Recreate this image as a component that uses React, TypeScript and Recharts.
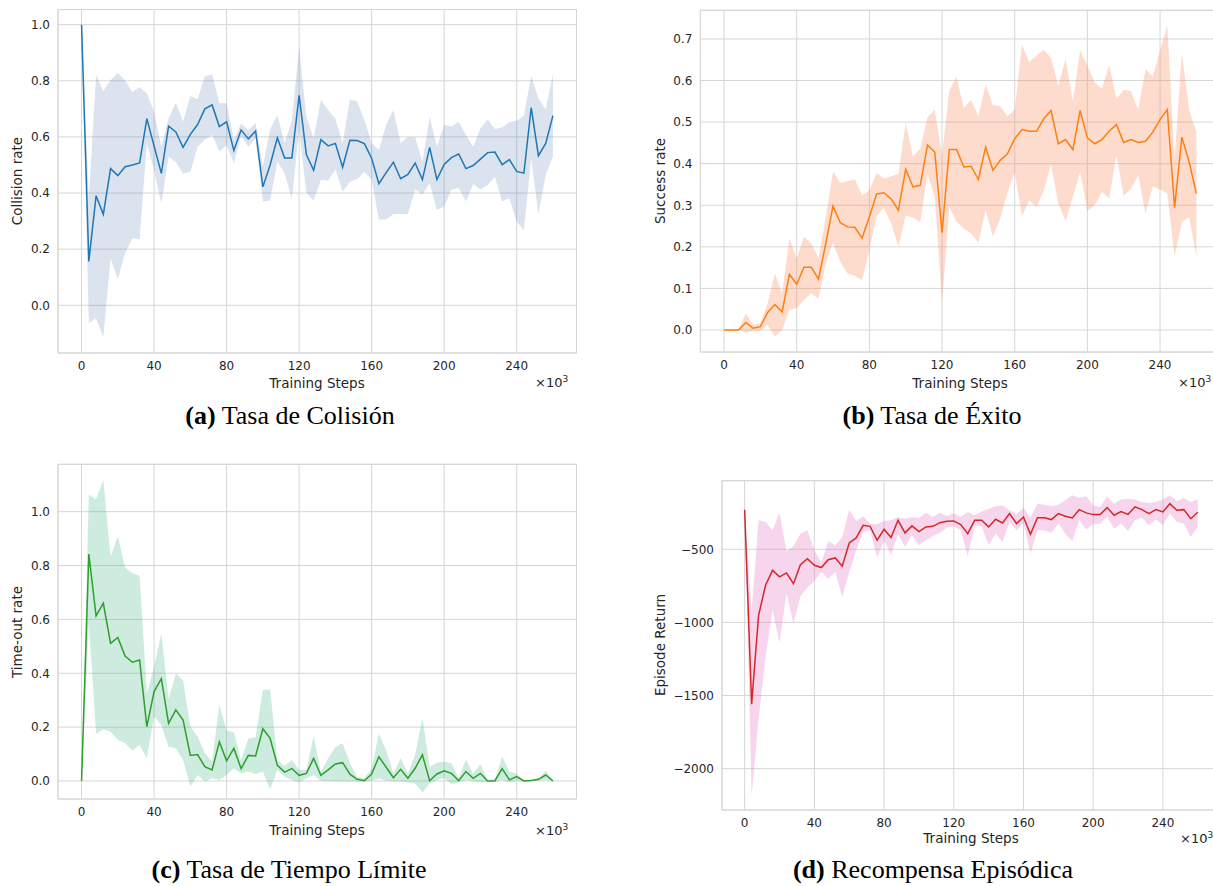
import { ComposedChart, Line, Area, XAxis, YAxis, CartesianGrid, ReferenceArea } from 'recharts';

// training steps (x10^3)
const steps = [0, 4, 8, 12, 16, 20, 24, 28, 32, 36, 40, 44, 48, 52, 56, 60, 64, 68, 72, 76, 80, 84, 88, 92, 96, 100, 104, 108, 112, 116, 120, 124, 128, 132, 136, 140, 144, 148, 152, 156, 160, 164, 168, 172, 176, 180, 184, 188, 192, 196, 200, 204, 208, 212, 216, 220, 224, 228, 232, 236, 240, 244, 248, 252, 256, 260];
const xTicks = [0, 40, 80, 120, 160, 200, 240];

// (a) collision rate
const collisionMean = [1.0, 0.156, 0.39, 0.324, 0.487, 0.462, 0.494, 0.5, 0.507, 0.665, 0.567, 0.47, 0.638, 0.618, 0.563, 0.609, 0.644, 0.7, 0.714, 0.637, 0.654, 0.552, 0.625, 0.593, 0.621, 0.422, 0.5, 0.597, 0.525, 0.525, 0.748, 0.537, 0.481, 0.59, 0.568, 0.577, 0.492, 0.588, 0.587, 0.576, 0.524, 0.433, 0.473, 0.51, 0.451, 0.466, 0.507, 0.448, 0.563, 0.448, 0.502, 0.526, 0.539, 0.487, 0.498, 0.521, 0.544, 0.546, 0.501, 0.519, 0.477, 0.471, 0.704, 0.533, 0.577, 0.676];
const collisionHigh = [1.0, 0.375, 0.82, 0.764, 0.802, 0.828, 0.802, 0.76, 0.777, 0.755, 0.69, 0.565, 0.666, 0.722, 0.654, 0.746, 0.734, 0.815, 0.823, 0.72, 0.72, 0.589, 0.648, 0.625, 0.65, 0.494, 0.627, 0.678, 0.577, 0.66, 0.92, 0.672, 0.595, 0.732, 0.696, 0.666, 0.577, 0.734, 0.726, 0.66, 0.577, 0.553, 0.643, 0.696, 0.577, 0.6, 0.598, 0.512, 0.672, 0.565, 0.643, 0.637, 0.654, 0.607, 0.565, 0.63, 0.663, 0.627, 0.634, 0.653, 0.658, 0.675, 0.817, 0.738, 0.698, 0.824];
const collisionLow = [1.0, -0.064, -0.046, -0.114, 0.167, 0.093, 0.185, 0.239, 0.235, 0.577, 0.48, 0.363, 0.53, 0.51, 0.47, 0.476, 0.565, 0.59, 0.607, 0.548, 0.571, 0.506, 0.603, 0.565, 0.595, 0.37, 0.373, 0.512, 0.47, 0.379, 0.625, 0.4, 0.373, 0.447, 0.444, 0.485, 0.405, 0.44, 0.449, 0.476, 0.447, 0.306, 0.306, 0.325, 0.325, 0.325, 0.413, 0.395, 0.435, 0.34, 0.352, 0.411, 0.42, 0.37, 0.432, 0.413, 0.429, 0.458, 0.37, 0.381, 0.298, 0.268, 0.524, 0.325, 0.464, 0.53];

// (b) success rate
const successMean = [0, 0, 0, 0.018, 0.004, 0.008, 0.042, 0.061, 0.044, 0.134, 0.11, 0.151, 0.151, 0.122, 0.208, 0.298, 0.258, 0.248, 0.247, 0.221, 0.272, 0.327, 0.33, 0.315, 0.288, 0.387, 0.344, 0.348, 0.445, 0.428, 0.234, 0.434, 0.434, 0.392, 0.394, 0.362, 0.44, 0.384, 0.408, 0.424, 0.46, 0.482, 0.478, 0.478, 0.508, 0.528, 0.448, 0.458, 0.434, 0.528, 0.462, 0.448, 0.458, 0.478, 0.494, 0.451, 0.458, 0.451, 0.454, 0.476, 0.506, 0.53, 0.294, 0.464, 0.404, 0.328];
const successHigh = [0, 0, 0, 0.04, 0.012, 0.016, 0.064, 0.136, 0.088, 0.22, 0.172, 0.224, 0.208, 0.172, 0.272, 0.382, 0.354, 0.358, 0.362, 0.324, 0.336, 0.378, 0.364, 0.37, 0.376, 0.498, 0.418, 0.436, 0.512, 0.53, 0.42, 0.576, 0.608, 0.534, 0.554, 0.514, 0.59, 0.542, 0.538, 0.514, 0.53, 0.686, 0.644, 0.66, 0.674, 0.654, 0.588, 0.652, 0.55, 0.672, 0.636, 0.596, 0.58, 0.638, 0.556, 0.578, 0.574, 0.53, 0.628, 0.61, 0.672, 0.732, 0.412, 0.666, 0.528, 0.476];
const successLow = [0, 0, 0, -0.006, -0.002, -0.002, 0.012, -0.016, 0, 0.048, 0.052, 0.072, 0.088, 0.076, 0.16, 0.21, 0.164, 0.136, 0.13, 0.12, 0.192, 0.274, 0.294, 0.256, 0.2, 0.276, 0.27, 0.26, 0.376, 0.32, 0.064, 0.296, 0.26, 0.244, 0.232, 0.21, 0.288, 0.224, 0.268, 0.33, 0.38, 0.274, 0.312, 0.296, 0.336, 0.398, 0.304, 0.262, 0.32, 0.38, 0.286, 0.3, 0.332, 0.316, 0.42, 0.322, 0.34, 0.372, 0.28, 0.346, 0.338, 0.328, 0.176, 0.26, 0.272, 0.176];

// (c) time-out rate
const timeoutMean = [0, 0.843, 0.613, 0.66, 0.511, 0.533, 0.464, 0.441, 0.449, 0.202, 0.332, 0.38, 0.214, 0.264, 0.226, 0.095, 0.098, 0.053, 0.041, 0.145, 0.075, 0.121, 0.046, 0.095, 0.093, 0.194, 0.158, 0.058, 0.033, 0.046, 0.021, 0.028, 0.084, 0.021, 0.041, 0.063, 0.068, 0.025, 0.006, 0.001, 0.026, 0.09, 0.051, 0.012, 0.043, 0.01, 0.047, 0.097, 0.001, 0.026, 0.038, 0.028, 0.001, 0.035, 0.01, 0.028, 0, 0.001, 0.046, 0.004, 0.016, 0, 0.002, 0.006, 0.022, 0];
const timeoutHigh = [0, 1.064, 1.046, 1.118, 0.833, 0.91, 0.793, 0.771, 0.761, 0.325, 0.425, 0.548, 0.303, 0.4, 0.373, 0.202, 0.165, 0.103, 0.072, 0.282, 0.187, 0.18, 0.078, 0.158, 0.162, 0.338, 0.34, 0.078, 0.056, 0.078, 0.041, 0.041, 0.167, 0.035, 0.084, 0.125, 0.14, 0.066, 0.016, 0.01, 0.047, 0.175, 0.113, 0.028, 0.084, 0.028, 0.097, 0.233, 0.053, 0.068, 0.072, 0.066, 0.01, 0.08, 0.028, 0.063, 0.004, 0.006, 0.09, 0.035, 0.028, 0, 0.002, 0.006, 0.038, 0.004];
const timeoutLow = [0, 0.588, 0.175, 0.192, 0.183, 0.152, 0.14, 0.113, 0.134, 0.084, 0.239, 0.208, 0.127, 0.121, 0.078, -0.021, 0.022, -0.002, 0.01, 0.004, 0.022, 0.047, 0.028, 0.035, 0.026, 0.035, -0.031, 0.041, 0.016, 0.004, -0.006, 0.01, 0.022, 0, 0, -0.002, -0.002, -0.002, -0.002, -0.002, 0, 0.01, 0.001, -0.002, -0.002, -0.006, -0.009, -0.043, -0.009, 0.004, 0.01, -0.011, -0.006, 0.004, -0.002, -0.006, -0.002, -0.004, 0.004, -0.006, 0.001, 0, 0, 0.001, 0.004, 0];

// (d) episode return
const returnMean = [-229, -1560, -951, -746, -644, -689, -662, -735, -605, -564, -609, -625, -571, -559, -616, -457, -422, -336, -343, -438, -363, -420, -302, -388, -340, -379, -347, -343, -318, -308, -306, -331, -393, -302, -302, -347, -295, -320, -256, -324, -279, -397, -284, -284, -297, -256, -274, -286, -229, -251, -263, -263, -215, -267, -242, -261, -210, -229, -256, -229, -245, -188, -233, -229, -291, -247];
const returnHigh = [-229, -917, -302, -313, -370, -251, -514, -479, -393, -370, -507, -590, -443, -473, -416, -229, -306, -274, -324, -329, -306, -302, -279, -293, -279, -286, -251, -279, -251, -270, -256, -279, -245, -267, -242, -222, -206, -199, -233, -261, -217, -284, -188, -195, -204, -195, -165, -131, -147, -138, -199, -210, -138, -188, -160, -154, -160, -176, -183, -176, -160, -131, -170, -149, -176, -160];
const returnLow = [-229, -2183, -1658, -1236, -917, -1140, -803, -1008, -821, -762, -717, -655, -701, -655, -826, -655, -507, -381, -370, -557, -438, -541, -393, -484, -404, -473, -438, -411, -388, -352, -343, -370, -548, -336, -343, -473, -393, -450, -313, -370, -324, -530, -370, -370, -388, -324, -393, -443, -302, -365, -329, -324, -279, -359, -324, -375, -302, -284, -336, -297, -336, -256, -313, -324, -416, -347];

const AXIS_FONT = '"DejaVu Sans", sans-serif';
const TEXT = '#262626';
const GRID = '#d6d6d6';
const TICK_SIZE = 12;
const LABEL_SIZE = 13.5;

interface PanelProps {
    mean: number[];
    low: number[];
    high: number[];
    line: string;
    fill: string;
    fillOpacity: number;
    yDomain: [number, number];
    yTicks: number[];
    fmt: (v: number) => string;
    left: number;
    top: number;
    yAxisWidth: number;
    margin: { top: number; right: number; bottom: number; left: number };
}

const Panel = ({ mean, low, high, line, fill, fillOpacity, yDomain, yTicks, fmt, left, top, yAxisWidth, margin }: PanelProps) => {
    const data = steps.map((s, i) => ({ step: s, mean: mean[i], band: [low[i], high[i]] }));
    return (
        <div style={{ position: 'absolute', left, top }}>
            <ComposedChart width={600} height={400} data={data} margin={margin}>
                <CartesianGrid stroke={GRID} strokeWidth={1} />
                <XAxis
                    dataKey="step"
                    type="number"
                    domain={[-13, 273]}
                    ticks={xTicks}
                    height={30}
                    axisLine={false}
                    tickLine={false}
                    tick={{ fill: TEXT, fontSize: TICK_SIZE, fontFamily: AXIS_FONT }}
                />
                <YAxis
                    type="number"
                    domain={yDomain}
                    ticks={yTicks}
                    width={yAxisWidth}
                    axisLine={false}
                    tickLine={false}
                    tickFormatter={fmt}
                    tick={{ fill: TEXT, fontSize: TICK_SIZE, fontFamily: AXIS_FONT }}
                />
                <ReferenceArea x1={-13} x2={273} y1={yDomain[0]} y2={yDomain[1]} fill="none" stroke={GRID} strokeWidth={1} />
                <Area
                    dataKey="band"
                    type="linear"
                    stroke="none"
                    fill={fill}
                    fillOpacity={fillOpacity}
                    isAnimationActive={false}
                    activeDot={false}
                />
                <Line
                    dataKey="mean"
                    type="linear"
                    stroke={line}
                    strokeWidth={1.5}
                    dot={false}
                    activeDot={false}
                    isAnimationActive={false}
                />
            </ComposedChart>
        </div>
    );
};

const one = (v: number) => v.toFixed(1);
const minus = (v: number) => (v < 0 ? '\u2212' + Math.abs(v) : String(v));

const label = (text: string, x: number, y: number, extra: React.CSSProperties = {}) => (
    <div style={{
        position: 'absolute', left: x, top: y, transform: 'translate(-50%, -50%)',
        fontFamily: AXIS_FONT, fontSize: LABEL_SIZE, color: TEXT, whiteSpace: 'nowrap', ...extra,
    }}>{text}</div>
);

const yLabel = (text: string, x: number, y: number) => label(text, x, y, { transform: 'translate(-50%, -50%) rotate(-90deg)' });

const offsetText = (x: number, y: number) => (
    <div style={{ position: 'absolute', left: x, top: y - 9, fontFamily: AXIS_FONT, fontSize: 13, color: TEXT, whiteSpace: 'nowrap' }}>
        ×10<sup style={{ fontSize: 9 }}>3</sup>
    </div>
);

const caption = (tag: string, text: string, x: number, y: number) => (
    <div style={{
        position: 'absolute', left: x, top: y, transform: 'translate(-50%, -50%)',
        fontFamily: '"Liberation Serif", "Times New Roman", serif', fontSize: 26, color: '#000', whiteSpace: 'nowrap',
    }}><b>({tag})</b> {text}</div>
);

export default function App() {
    return (
        <div style={{ position: 'absolute', left: 0, top: 0, width: 1213, height: 886, overflow: 'hidden', background: '#fff' }}>
            <Panel mean={collisionMean} low={collisionLow} high={collisionHigh}
                line="#1f77b4" fill="#4c72b0" fillOpacity={0.2}
                yDomain={[-0.17, 1.054]} yTicks={[0, 0.2, 0.4, 0.6, 0.8, 1.0]} fmt={one}
                left={0} top={0} yAxisWidth={58} margin={{ top: 9.5, right: 23.5, bottom: 17, left: 0 }} />
            <Panel mean={successMean} low={successLow} high={successHigh}
                line="#ff7f0e" fill="#fa8a5e" fillOpacity={0.3}
                yDomain={[-0.053, 0.769]} yTicks={[0, 0.1, 0.2, 0.3, 0.4, 0.5, 0.6, 0.7]} fmt={one}
                left={642} top={0} yAxisWidth={58.4} margin={{ top: 10.3, right: 22, bottom: 18, left: 0 }} />
            <Panel mean={timeoutMean} low={timeoutLow} high={timeoutHigh}
                line="#2ca02c" fill="#3cb07f" fillOpacity={0.25}
                yDomain={[-0.067, 1.176]} yTicks={[0, 0.2, 0.4, 0.6, 0.8, 1.0]} fmt={one}
                left={0} top={454} yAxisWidth={58} margin={{ top: 10.3, right: 23.5, bottom: 25, left: 0 }} />
            <Panel mean={returnMean} low={returnLow} high={returnHigh}
                line="#d62728" fill="#e377c2" fillOpacity={0.3}
                yDomain={[-2283, -31]} yTicks={[-2000, -1500, -1000, -500]} fmt={minus}
                left={663.6} top={470} yAxisWidth={58} margin={{ top: 10.7, right: 43.6, bottom: 30, left: 0 }} />

            {yLabel('Collision rate', 17, 181)}
            {yLabel('Success rate', 660, 181)}
            {yLabel('Time-out rate', 17, 632)}
            {yLabel('Episode Return', 660, 645)}

            {label('Training Steps', 317, 383)}
            {label('Training Steps', 960, 383)}
            {label('Training Steps', 317, 830)}
            {label('Training Steps', 971, 838)}

            {offsetText(535, 383)}
            {offsetText(1178, 383)}
            {offsetText(535, 831)}
            {offsetText(1180, 839)}

            {caption('a', 'Tasa de Colisión', 290, 416)}
            {caption('b', 'Tasa de Éxito', 932, 416)}
            {caption('c', 'Tasa de Tiempo Límite', 289, 870)}
            {caption('d', 'Recompensa Episódica', 933, 870)}
        </div>
    );
}
